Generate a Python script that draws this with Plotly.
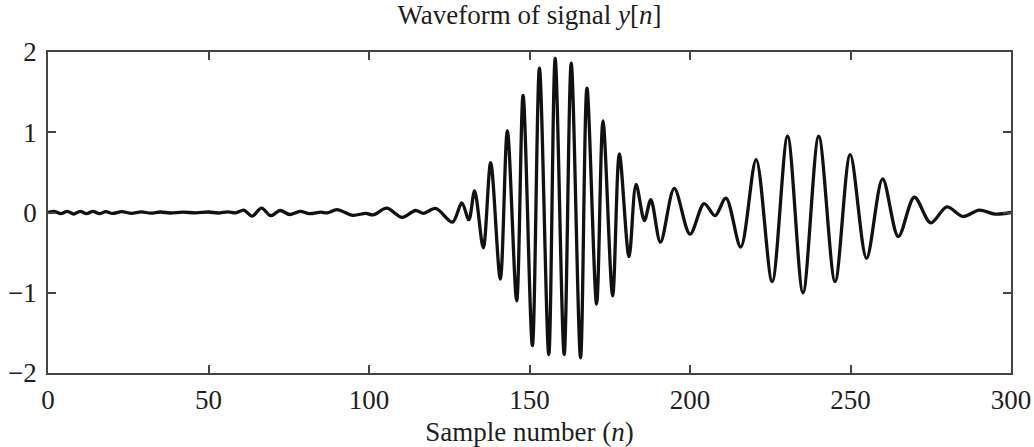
import plotly.graph_objects as go

# Extrema / turning points of y[n]
n_points = [0, 2, 4, 6, 8, 10, 12, 14, 16, 18, 20, 23, 26, 29, 32, 35, 38, 42, 46, 50, 53, 56, 58.5,
            61, 63.6, 66.5, 69.4, 72.3, 75.3, 78.5, 81.5, 85, 87, 90, 95, 99, 101.3, 105.5, 110.3,
            114.5, 117, 120.8, 126, 128.9, 131.1, 132.9, 135.6, 137.9, 140.9, 143.1, 146, 148,
            150.9, 153.1, 156, 158, 160.8, 163, 165.9, 167.9, 170.9, 172.9, 175.9, 178, 181,
            183.2, 185.8, 187.8, 190.8, 195.1, 200, 204.4, 207.8, 211.2, 215.8, 220.6, 225.6,
            230.4, 235.2, 240.1, 245.2, 249.9, 255, 260, 264.9, 269.9, 275, 280, 285.1, 290.1,
            295, 300]
y_values = [0.0, 0.015, -0.015, 0.015, -0.02, 0.015, -0.015, 0.015, -0.015, 0.012, -0.012, 0.01, -0.01,
            0.008, -0.008, 0.006, -0.006, 0.004, -0.004, 0.006, -0.006, 0.008, -0.004,
            0.03, -0.045, 0.055, -0.04, 0.025, -0.025, 0.015, -0.015, 0.005, -0.005, 0.035, -0.035,
            -0.01, -0.03, 0.055, -0.06,
            0.025, -0.01, 0.05, -0.12, 0.12, -0.09, 0.27, -0.44, 0.62, -0.83, 1.02, -1.10, 1.46,
            -1.66, 1.80, -1.77, 1.92, -1.77, 1.86, -1.81, 1.55, -1.14, 1.14, -1.04, 0.73, -0.55,
            0.35, -0.10, 0.16, -0.37, 0.30, -0.27, 0.11, -0.04, 0.18, -0.43, 0.66, -0.86,
            0.95, -1.0, 0.95, -0.86, 0.72, -0.57, 0.42, -0.30, 0.19, -0.13, 0.07, -0.05, 0.03,
            -0.02, 0.0]

x_ticks = [0, 50, 100, 150, 200, 250, 300]
y_ticks = [-2, -1, 0, 1, 2]

SERIF = "Liberation Serif, Times New Roman, serif"
TEXT = "#1e1e1e"

fig = go.Figure()
fig.add_trace(go.Scatter(
    x=n_points, y=y_values, mode="lines",
    line=dict(color="#111111", width=3.3, shape="spline", smoothing=0.9),
    showlegend=False, hoverinfo="skip"))

axis_common = dict(
    showgrid=False, zeroline=False, showline=True, linecolor="#444444", linewidth=1.5,
    mirror="ticks", ticks="inside", ticklen=8, tickwidth=1.5, tickcolor="#444444",
    tickfont=dict(family=SERIF, size=27, color=TEXT), automargin=False,
)

fig.update_layout(
    width=1034, height=447,
    margin=dict(l=48, r=23, t=52, b=74),
    paper_bgcolor="white", plot_bgcolor="white",
    title=dict(text="Waveform of signal <i>y</i>[<i>n</i>]", x=0.512, xanchor="center",
               y=0.968, yanchor="middle",
               font=dict(family=SERIF, size=27, color=TEXT)),
    xaxis=dict(range=[0, 300], tickvals=x_ticks, title=dict(
        text="Sample number (<i>n</i>)", font=dict(family=SERIF, size=27, color=TEXT)),
        ticklabelstandoff=2, **axis_common),
    yaxis=dict(range=[-2, 2], tickvals=y_ticks, ticklabelstandoff=4, **axis_common),
)

fig.write_html("out.html", config={"displayModeBar": False},
               post_script="document.body.style.margin='0px';document.body.style.overflow='hidden';")
